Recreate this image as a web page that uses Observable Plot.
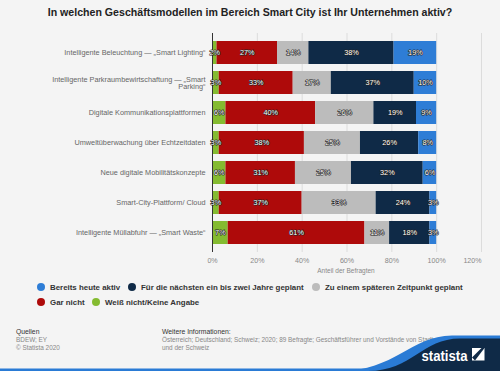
<!DOCTYPE html>
<html>
<head>
<meta charset="utf-8">
<script src="https://cdn.jsdelivr.net/npm/d3@7"></script>
<script src="https://cdn.jsdelivr.net/npm/@observablehq/plot@0.6"></script>
<style>
  html, body { margin: 0; padding: 0; background: #f4f4f4; }
  #wrap { position: relative; width: 500px; height: 371px; overflow: hidden; background: #f4f4f4; font-family: "Liberation Sans", Arial, sans-serif; }
  #title { position: absolute; top: 6px; left: 0; width: 500px; text-align: center; font-weight: bold; font-size: 10.6px; color: #222; }
  #chart { position: absolute; top: 22px; left: 0; }
  #xlabel { position: absolute; top: 267px; left: 296px; width: 100px; text-align: center; font-size: 6.5px; color: #888; }
  .leg { position: absolute; font-size: 7.9px; font-weight: bold; color: #333; white-space: nowrap; }
  .leg i { display: inline-block; width: 8px; height: 8px; border-radius: 50%; margin-right: 5px; vertical-align: -1px; }
  .foot { position: absolute; font-size: 6.4px; line-height: 8px; color: #888; white-space: nowrap; }
  .foot b { color: #333; font-weight: normal; font-size: 6.8px; }
  #logo { position: absolute; left: 0; top: 0; }
</style>
</head>
<body>
<div id="wrap">
  <div id="title">In welchen Geschäftsmodellen im Bereich Smart City ist Ihr Unternehmen aktiv?</div>
  <div id="chart"></div>
  <div id="xlabel">Anteil der Befragten</div>
  <div id="legend"></div>
  <div class="foot" style="left:16px; top:328px;"><b>Quellen</b><br>BDEW; EY<br>© Statista 2020</div>
  <div class="foot" style="left:162px; top:328px;"><b>Weitere Informationen:</b><br>Österreich; Deutschland; Schweiz; 2020; 89 Befragte; Geschäftsführer und Vorstände von Stadtwerken<br>und der Schweiz</div>
  <svg id="logo" width="500" height="371">
    <rect x="0" y="368.5" width="500" height="2.5" fill="#2a7bd5"></rect>
    <path d="M 340 371 C 395 371, 410 336, 452 335.5 L 500 335.5 L 500 371 Z" fill="#2a7bd5"></path>
    <path d="M 368 371 C 412 371, 422 338.5, 460 338.5 L 500 338.5 L 500 371 Z" fill="#0f2a47"></path>
    <text x="421.5" y="360.5" fill="#fff" font-family="'Liberation Sans', Arial, sans-serif" font-weight="bold" font-size="14.5" textLength="46" lengthAdjust="spacingAndGlyphs">statista</text>
    <rect x="472" y="348" width="12.5" height="12.5" fill="#fff"></rect>
    <path d="M 472 357.5 L 481.5 348 L 484.5 348 L 475 360.5 Z" fill="#0f2a47"></path>
  </svg>
</div>
<script>
const categories = [
  "Intelligente Beleuchtung — „Smart Lighting“",
  "Intelligente Parkraumbewirtschaftung — „Smart\nParking“",
  "Digitale Kommunikationsplattformen",
  "Umweltüberwachung über Echtzeitdaten",
  "Neue digitale Mobilitätskonzepte",
  "Smart-City-Plattform/ Cloud",
  "Intelligente Müllabfuhr — „Smart Waste“"
];
const seriesNames = [
  "Weiß nicht/Keine Angabe",
  "Gar nicht",
  "Zu einem späteren Zeitpunkt geplant",
  "Für die nächsten ein bis zwei Jahre geplant",
  "Bereits heute aktiv"
];
const seriesColors = ["#84bb30", "#ae0a0a", "#bcbcbc", "#0f2a47", "#2e7dd6"];
const weissNicht   = [2, 3, 6, 3, 6, 3, 7];
const garNicht     = [27, 33, 40, 38, 31, 37, 61];
const spaeter      = [14, 17, 26, 25, 25, 33, 11];
const naechste     = [38, 37, 19, 26, 32, 24, 18];
const bereits      = [19, 10, 9, 8, 6, 3, 3];
const xTicks = [0, 20, 40, 60, 80, 100, 120];
const legendOrder = [4, 3, 2, 1, 0];

const seriesValues = [weissNicht, garNicht, spaeter, naechste, bereits];
const data = [];
categories.forEach((c, i) => {
  seriesNames.forEach((s, j) => data.push({cat: c, series: s, value: seriesValues[j][i]}));
});

const chart = Plot.plot({
  width: 500,
  height: 250,
  marginLeft: 212,
  marginRight: 19,
  marginTop: 11,
  marginBottom: 20,
  style: {background: "transparent", fontFamily: "'Liberation Sans', Arial, sans-serif"},
  x: {domain: [0, 120], axis: null},
  y: {domain: categories, padding: 0.24, axis: null},
  color: {domain: seriesNames, range: seriesColors},
  marks: [
    Plot.gridX(xTicks, {stroke: "#dcdcdc", strokeOpacity: 1}),
    Plot.barX(data, {x: "value", y: "cat", fill: "series", order: seriesNames}),
    Plot.ruleX([0], {stroke: "#333", strokeWidth: 1}),
    Plot.text(data, Plot.stackX({
      x: "value", y: "cat", z: "series", order: seriesNames,
      text: d => d.value + "%",
      fill: "#fff", stroke: "#222", strokeWidth: 1.2,
      fontSize: 7.3
    })),
    Plot.axisY({tickSize: 0, tickPadding: 7, fontSize: 7.3, fill: "#666", lineHeight: 1.05, label: null}),
    Plot.axisX(xTicks.slice(0, -1), {tickSize: 0, tickPadding: 5, fontSize: 7.1, fill: "#888", tickFormat: d => d + "%", label: null}),
    Plot.axisX(xTicks.slice(-1), {tickSize: 0, tickPadding: 5, fontSize: 7.1, fill: "#888", tickFormat: d => d + "%", label: null, dx: -9})
  ]
});
document.getElementById("chart").appendChild(chart);

const legendPos = [
  {left: 37, top: 283}, {left: 128, top: 283}, {left: 312, top: 283},
  {left: 37, top: 298}, {left: 92, top: 298}
];
const legend = document.getElementById("legend");
legendOrder.forEach((j, k) => {
  const el = document.createElement("div");
  el.className = "leg";
  el.style.left = legendPos[k].left + "px";
  el.style.top = legendPos[k].top + "px";
  el.innerHTML = `<i style="background:${seriesColors[j]}"></i>${seriesNames[j]}`;
  legend.appendChild(el);
});
</script>
</body>
</html>
